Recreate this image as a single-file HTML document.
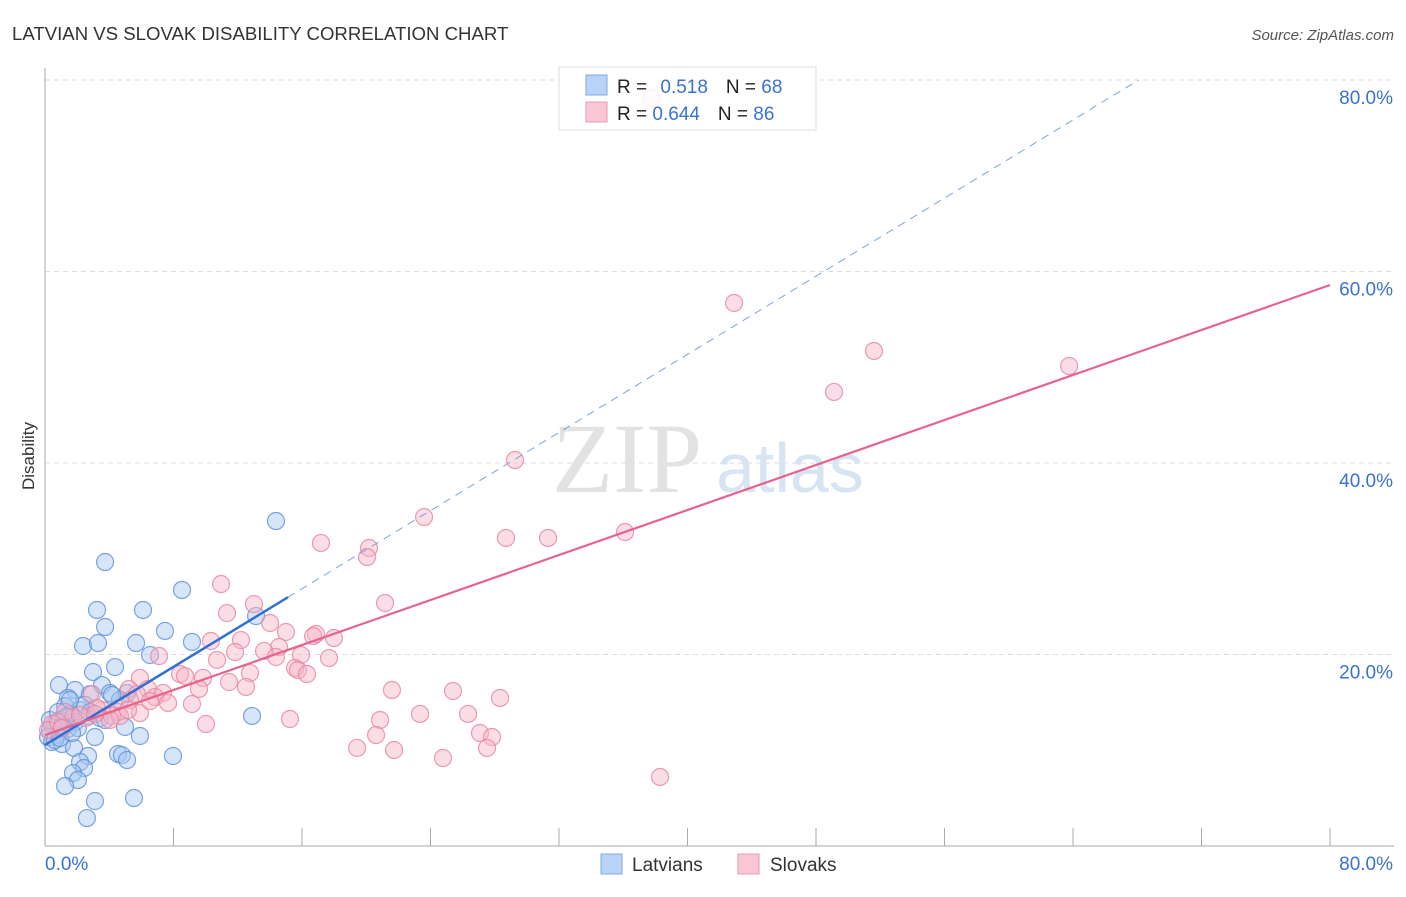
<!DOCTYPE html>
<html><head><meta charset="utf-8"><style>
body{margin:0;background:#fff;font-family:"Liberation Sans",sans-serif;}
svg text{font-family:"Liberation Sans",sans-serif;}
</style></head><body>
<svg id="chart" width="1406" height="892" xmlns="http://www.w3.org/2000/svg">
<text x="12" y="40" font-size="18.6" fill="#333">LATVIAN VS SLOVAK DISABILITY CORRELATION CHART</text>
<text x="1394" y="40" font-size="15" fill="#555" font-style="italic" text-anchor="end">Source: ZipAtlas.com</text>
<g id="grid"></g>
<g><text x="552" y="492" font-size="100" fill="#e2e2e2" style="font-family:'Liberation Serif',serif">ZIP</text><text x="716" y="492" font-size="70" fill="#d6e4f4">atlas</text></g>
<text x="34" y="456" font-size="17" fill="#333" text-anchor="middle" transform="rotate(-90 34 456)">Disability</text>
<g id="axes"></g>
<g id="blue"></g>
<g id="pink"></g>
<g id="trend"></g>
<g>
<rect x="559" y="67" width="257" height="63" fill="#fff" fill-opacity="0.85" stroke="#ddd"/>
<rect x="586" y="75" width="21" height="20" fill="#b8d3f5" stroke="#7ea8e4"/>
<rect x="586" y="102" width="21" height="20" fill="#fac6d6" stroke="#ec9ab3"/>
<text x="617" y="93" font-size="19" fill="#222">R = <tspan fill="#3a72d0" dx="8">0.518</tspan><tspan dx="18" fill="#222">N = </tspan><tspan fill="#3a72d0">68</tspan></text>
<text x="617" y="120" font-size="19" fill="#222">R = <tspan fill="#3a72d0">0.644</tspan><tspan dx="18" fill="#222">N = </tspan><tspan fill="#3a72d0">86</tspan></text>
</g>
<g>
<rect x="601" y="854" width="21" height="20" fill="#b8d3f5" stroke="#7ea8e4"/>
<text x="632" y="871" font-size="19" fill="#333">Latvians</text>
<rect x="738" y="854" width="21" height="20" fill="#fac6d6" stroke="#ec9ab3"/>
<text x="770" y="871" font-size="19" fill="#333">Slovaks</text>
</g>
</svg>
<script>
const yTicks=[20,40,60,80];
const yTickLabels=["20.0%","40.0%","60.0%","80.0%"];
const xTicks=[0,8,16,24,32,40,48,56,64,72,80];
const latX=[3.74,14.38,8.53,3.24,6.10,3.74,7.47,2.37,3.30,5.67,9.15,6.54,13.14,4.36,2.99,0.87,3.55,1.87,4.05,2.80,1.43,5.11,1.25,4.67,2.18,1.56,2.68,0.93,1.87,3.42,0.62,1.43,0.31,2.05,0.81,0.19,3.11,5.91,0.44,1.06,1.81,4.98,12.89,2.68,4.55,4.79,5.11,7.97,2.18,2.43,1.74,2.05,1.25,3.11,5.54,2.61,0.62,0.93,4.17,2.49,1.56,3.74,0.31,0.81,1.31,1.68,2.80,1.06];
const latY=[29.66,33.94,26.74,24.65,24.65,22.87,22.46,20.89,21.20,21.20,21.31,19.95,24.02,18.69,18.17,16.81,16.81,16.29,15.98,15.87,15.46,15.98,14.62,15.25,14.20,13.79,13.58,13.16,12.95,13.37,12.74,12.22,12.11,12.32,11.59,11.38,11.38,11.49,10.86,10.65,10.24,12.43,13.58,9.40,9.61,9.50,8.98,9.40,8.77,8.15,7.62,6.89,6.27,4.70,5.01,2.92,11.07,11.28,15.77,14.73,15.25,13.16,13.16,13.99,13.47,11.80,13.99,12.53];
const slvX=[37.73,42.90,51.61,63.76,49.12,29.26,23.60,17.18,20.17,20.05,28.70,31.32,36.11,10.96,21.17,13.01,11.33,14.01,15.00,16.87,16.69,17.99,10.33,12.20,14.57,11.83,13.64,15.94,7.10,10.71,17.68,14.38,15.57,15.75,16.31,12.76,8.41,8.72,5.91,9.84,11.46,12.51,21.60,25.40,28.33,5.23,6.41,9.59,7.35,2.93,5.73,6.85,5.29,7.66,9.15,23.35,26.34,15.25,20.86,10.02,3.55,4.55,4.17,2.55,3.24,4.67,5.91,20.61,27.08,27.83,19.43,21.73,27.52,24.78,38.29,1.74,1.25,0.44,0.19,0.81,2.18,6.54,4.05,1.06,3.11,5.17];
const slvY=[78.12,56.71,51.70,50.13,47.42,40.31,34.36,31.65,31.12,30.18,32.17,32.17,32.79,27.36,25.38,25.27,24.33,23.29,22.35,22.14,21.93,21.72,21.41,21.51,20.78,20.26,20.37,19.95,19.84,19.43,19.63,19.74,18.59,18.38,17.96,18.07,17.96,17.75,17.55,17.55,17.13,16.61,16.29,16.19,15.46,16.40,16.40,16.40,15.98,15.87,15.87,15.56,15.25,14.94,14.83,13.79,13.79,13.26,13.16,12.74,14.20,13.99,13.58,13.37,14.41,13.58,13.89,11.59,11.80,11.38,10.24,10.03,10.24,9.19,7.21,13.37,13.99,12.74,12.11,12.95,13.68,15.14,13.16,12.32,13.79,14.20];
const latTrend=[10.55,1.02];
const slvTrend=[11.59,0.5875];
const X0=45,X1=1330,Y0=846,Y80=80;
const xs=v=>X0+(X1-X0)*v/80;
const ys=v=>Y0-(Y0-Y80)*v/80;
const NS="http://www.w3.org/2000/svg";
function mk(tag,attrs,parent){const e=document.createElementNS(NS,tag);for(const k in attrs)e.setAttribute(k,attrs[k]);parent.appendChild(e);return e;}
const grid=document.getElementById('grid'),axes=document.getElementById('axes');
yTicks.forEach((t,i)=>{
 const l=mk('line',{x1:X0,x2:1394,y1:ys(t),y2:ys(t),stroke:'#ddd','stroke-dasharray':'5,4'},grid);
 
 
 const tx=mk('text',{x:1393,y:ys(t)+24,'font-size':19,fill:'#3a72d0','text-anchor':'end'},axes);
 tx.textContent=yTickLabels[i];
 
 
});
let a=mk('line',{x1:X0,x2:X0,y1:68,y2:Y0,stroke:'#aaa'},axes);


a=mk('line',{x1:X0,x2:1394,y1:Y0,y2:Y0,stroke:'#aaa'},axes);


xTicks.forEach(t=>{
 const l=mk('line',{x1:xs(t),x2:xs(t),y1:Y0,y2:828,stroke:'#aaa'},axes);
 
 
});
let t0=mk('text',{x:45,y:870,'font-size':19,fill:'#3a72d0'},axes);t0.textContent='0.0%';


let t1=mk('text',{x:1393,y:870,'font-size':19,fill:'#3a72d0','text-anchor':'end'},axes);t1.textContent='80.0%';


function pts(X,Y,g,fill,stroke,name){
 X.forEach((x,i)=>{
  const c=mk('circle',{cx:xs(x),cy:ys(Y[i]),r:8.5,fill:fill,'fill-opacity':0.45,stroke:stroke,'stroke-opacity':0.8,'stroke-width':1.2},g);
  
  
 });
}
pts(slvX,slvY,document.getElementById('pink'),'#f7b3c7','#e8839f','slovaks-point');
pts(latX,latY,document.getElementById('blue'),'#a6c6f0','#5b8fd9','latvians-point');
const tr=document.getElementById('trend');
let l=mk('line',{x1:xs(0),y1:ys(latTrend[0]),x2:xs(15.13),y2:ys(latTrend[0]+latTrend[1]*15.13),stroke:'#2f6fd6','stroke-width':2.5},tr);


const xe=(80-latTrend[0])/latTrend[1];
l=mk('line',{x1:xs(15.13),y1:ys(latTrend[0]+latTrend[1]*15.13),x2:xs(xe),y2:ys(80),stroke:'#7ea3e0','stroke-width':1,'stroke-dasharray':'8,6'},tr);


l=mk('line',{x1:xs(0),y1:ys(slvTrend[0]),x2:xs(80),y2:ys(slvTrend[0]+slvTrend[1]*80),stroke:'#e6638e','stroke-width':2.2},tr);


</script>
</body></html>
